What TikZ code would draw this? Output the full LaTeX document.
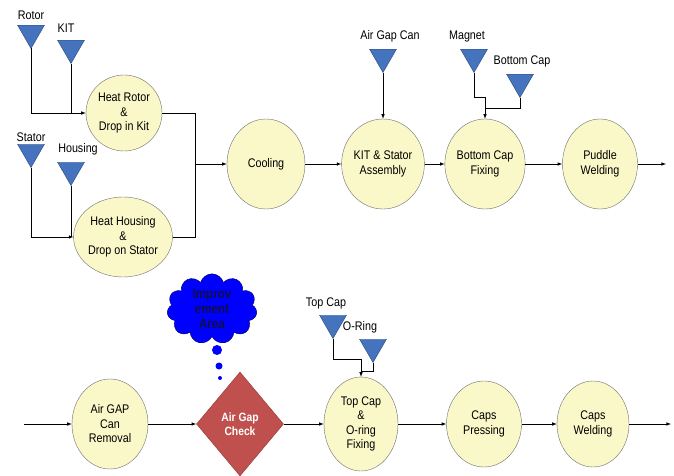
\documentclass[tikz,border=0pt]{standalone}
\usepackage{fontspec}
\setmainfont{Liberation Sans}[FakeStretch=0.86]
\usepackage{xcolor}
\usepackage{tikz}
\usetikzlibrary{shapes,arrows,positioning,calc}

\definecolor{procfill}{RGB}{250,248,200}
\definecolor{procline}{RGB}{110,110,110}
\definecolor{stockfill}{RGB}{70,115,190}
\definecolor{stockline}{RGB}{40,70,120}
\definecolor{checkfill}{RGB}{192,80,77}
\definecolor{checkline}{RGB}{140,56,54}
\definecolor{cloudtext}{RGB}{15,15,70}

\begin{document}
\begin{tikzpicture}[
            x=1pt, y=-1pt,
            >=latex,
            every node/.style={font=\fontsize{12.5}{14.5}\selectfont, align=center},
            proc/.style={ellipse, draw=procline, fill=procfill, inner sep=0pt, minimum width=76pt, minimum height=90pt},
            stock/.style={regular polygon, regular polygon sides=3, shape border rotate=180, draw=stockline, fill=stockfill, inner sep=0pt, outer sep=0pt, minimum size=31pt},
            lbl/.style={inner sep=1pt},
            ln/.style={semithick},
            dot/.style={circle, fill=blue, inner sep=0pt},
        ]
            \useasboundingbox (0,0) rectangle (674,476);

            % raw material inputs
            \node[stock] (rotor) at (31,33) {};
            \node[stock] (kitin) at (71,48) {};
            \node[stock] (stator) at (31,152) {};
            \node[stock] (housing) at (71,170) {};
            \node[stock] (agcan) at (383,57) {};
            \node[stock] (magnet) at (474,57) {};
            \node[stock] (bcap) at (520,82) {};
            \node[stock] (tcap) at (333,323) {};
            \node[stock] (oring) at (373,347) {};

            \node[lbl] (rotorlbl) at (31,15) {Rotor};
            \node[lbl] (kitlbl) at (66,28) {KIT};
            \node[lbl] (statorlbl) at (31,137) {Stator};
            \node[lbl] (housinglbl) at (78,149) {Housing};
            \node[lbl] (agcanlbl) at (390,36) {Air Gap Can};
            \node[lbl] (magnetlbl) at (467,36) {Magnet};
            \node[lbl] (bcaplbl) at (522,61) {Bottom Cap};
            \node[lbl] (tcaplbl) at (326,303) {Top Cap};
            \node[lbl] (oringlbl) at (360,327) {O-Ring};

            % first line
            \node[proc, minimum width=76pt, minimum height=76pt] (hr) at (124,113) {Heat Rotor\\\&\\Drop in Kit};
            \node[proc, minimum width=78pt, minimum height=80pt] (hh) at (123,237) {Heat Housing\\\&\\Drop on Stator};
            \node[proc, minimum width=78pt] (cool) at (266,164) {Cooling};
            \node[proc] (kit) at (383,164) {KIT \& Stator\\Assembly};
            \node[proc] (bcf) at (485,164) {Bottom Cap\\Fixing};
            \node[proc, minimum width=75pt] (pw) at (600,164) {Puddle\\Welding};
            \coordinate (jn) at (195,164);
            \coordinate (out1) at (666,164);

            % second line
            \coordinate (in2) at (24,424);
            \node[proc] (agr) at (110,424) {Air GAP\\Can\\Removal};
            \node[diamond, draw=checkline, fill=checkfill, text=white, font=\bfseries\fontsize{12}{14}\selectfont, minimum width=87pt, minimum height=104pt, inner sep=0pt] (chk) at (240,424) {Air Gap\\Check};
            \node[proc, minimum width=74pt, minimum height=94pt] (tcf) at (361,424) {Top Cap\\\&\\O-ring\\Fixing};
            \node[proc, minimum width=75pt, minimum height=86pt] (cp) at (484,424) {Caps\\Pressing};
            \node[proc, minimum width=72pt, minimum height=86pt] (cw) at (593,424) {Caps\\Welding};
            \coordinate (out2) at (671,424);

            % improvement note
            \node[cloud, cloud puffs=11, aspect=1.4, draw=blue!40!black, fill=blue, minimum width=90pt, minimum height=66pt, inner sep=0pt, text=cloudtext, font=\bfseries\fontsize{13.5}{15}\selectfont] (impr) at (212,309) {Improv\\ement\\Area};
            \node[dot, minimum size=10pt] (dot1) at (217,350) {};
            \node[dot, minimum size=7pt] (dot2) at (219,366) {};
            \node[dot, minimum size=4pt] (dot3) at (220,378) {};

            % feeds
            \draw[ln,->] (rotor.south) |- (hr.west);
            \draw[ln] (kitin.south) -- (kitin.south |- hr.west);
            \draw[ln,->] (stator.south) |- (hh.west);
            \draw[ln] (housing.south) -- (housing.south |- hh.west);
            \draw[ln,->] (agcan.south) -- (kit.north);
            \coordinate (m1) at (485,97);
            \coordinate (m2) at (485,108);
            \draw[ln,->] (magnet.south) |- (m1) -- (bcf.north);
            \draw[ln] (bcap.south) |- (m2);
            \coordinate (t1) at (361,359);
            \coordinate (t2) at (361,371);
            \draw[ln,->] (tcap.south) |- (t1) -- (tcf.north);
            \draw[ln] (oring.south) |- (t2);

            % flow
            \draw[ln] (hr.east) -| (jn);
            \draw[ln] (hh.east) -| (jn);
            \draw[ln,->] (jn) -- (cool.west);
            \draw[ln,->] (cool) -- (kit);
            \draw[ln,->] (kit) -- (bcf);
            \draw[ln,->] (bcf) -- (pw);
            \draw[ln,->] (pw) -- (out1);
            \draw[ln,->] (in2) -- (agr);
            \draw[ln,->] (agr) -- (chk);
            \draw[ln,->] (chk) -- (tcf);
            \draw[ln,->] (tcf) -- (cp);
            \draw[ln,->] (cp) -- (cw);
            \draw[ln,->] (cw) -- (out2);
        \end{tikzpicture}
\end{document}
